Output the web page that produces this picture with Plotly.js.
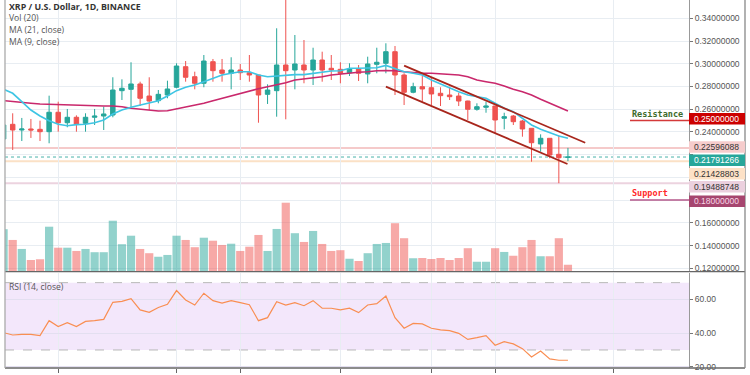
<!DOCTYPE html>
<html><head><meta charset="utf-8">
<script src="https://cdn.plot.ly/plotly-3.0.1.min.js"></script>
<style>html,body{margin:0;padding:0;background:#fff;overflow:hidden}#chart{width:750px;height:375px}</style>
</head><body><div id="chart"></div>
<script>
// ---- data ----
const opens  = [.2338,.2467,.2417,.2426,.2423,.2402,.2573,.2481,.2529,.2476,.2529,.2540,.2549,.2763,.2775,.2822,.2716,.2675,.2725,.2793,.2974,.2886,.2828,.3018,.2945,.2916,.2945,.2921,.2901,.2731,.2763,.2989,.2945,.2989,.2945,.3033,.2960,.2951,.2921,.2954,.2910,.2995,.3004,.3106,.2901,.2749,.2798,.2789,.2740,.2725,.2716,.2672,.2599,.2617,.2628,.2520,.2540,.2496,.2432,.2294,.2344,.2203,.2176];
const highs  = [.2479,.2564,.2523,.2514,.2499,.2719,.2666,.2602,.2546,.2564,.2602,.2622,.2881,.2863,.3013,.2842,.2881,.2769,.2851,.3004,.3024,.2930,.3077,.3042,.3042,.3057,.2998,.3077,.2901,.2819,.3312,.3700,.3253,.3209,.3141,.3106,.3077,.3013,.3004,.2989,.3062,.3141,.3180,.3156,.2916,.2833,.2901,.2881,.2793,.2798,.2745,.2675,.2652,.2666,.2628,.2569,.2549,.2505,.2432,.2379,.2344,.2373,.22596];
const lows   = [.2320,.2241,.2320,.2347,.2320,.2300,.2402,.2441,.2402,.2402,.2461,.2417,.2529,.2681,.2617,.2628,.2593,.2652,.2696,.2784,.2842,.2775,.2793,.2842,.2842,.2775,.2857,.2842,.2481,.2646,.2534,.2511,.2775,.2828,.2813,.2842,.2857,.2828,.2892,.2848,.2828,.2916,.2916,.2725,.2637,.2740,.2666,.2637,.2628,.2681,.2628,.2505,.2587,.2569,.2388,.2423,.2461,.2358,.2138,.2226,.2168,.19489,.21429];
const closes = [.2461,.2417,.2426,.2417,.2402,.2573,.2481,.2529,.2470,.2529,.2540,.2558,.2769,.2784,.2822,.2696,.2672,.2731,.2778,.2980,.2881,.2828,.3024,.2939,.2916,.2945,.2921,.2901,.2725,.2769,.2989,.2939,.2998,.2945,.3033,.2945,.2945,.2916,.2954,.2916,.2998,.3013,.3106,.2901,.2749,.2798,.2778,.2734,.2719,.2710,.2672,.2599,.2622,.2628,.2505,.2534,.2490,.2426,.2305,.2344,.2197,.2173,.21791];
const volumes = [170,127,91,47,50,180,96,96,83,91,78,78,204,110,144,91,74,60,67,144,127,98,136,124,107,112,83,100,147,83,171,276,154,119,163,111,83,86,52,43,74,111,115,194,134,54,55,51,55,47,55,94,40,40,94,79,64,98,127,62,62,134,28];
const volDir = ['u','d','u','d','d','u','d','u','d','u','u','u','u','u','u','d','d','u','u','u','d','d','u','d','d','u','d','d','d','u','u','d','u','d','u','d','d','d','u','d','u','u','u','d','d','u','d','d','d','d','d','d','u','u','d','u','d','d','d','u','d','d','d'];
const ma9  = [.2775,.2740,.2666,.2593,.2540,.2499,.2467,.2455,.2464,.2467,.2481,.2505,.2558,.2593,.2617,.2637,.2652,.2675,.2716,.2763,.2793,.2813,.2842,.2872,.2901,.2916,.2930,.2930,.2901,.2886,.2892,.2901,.2904,.2904,.2916,.2930,.2936,.2939,.2960,.2960,.2960,.2965,.2985,.2960,.2930,.2916,.2901,.2857,.2822,.2784,.2754,.2725,.2710,.2696,.2652,.2608,.2578,.2520,.2461,.2423,.2393,.2364,.2344];
const ma21 = [.2675,.2666,.2661,.2652,.2646,.2643,.2637,.2637,.2634,.2631,.2631,.2628,.2628,.2622,.2608,.2599,.2587,.2584,.2587,.2602,.2619,.2637,.2652,.2675,.2696,.2716,.2740,.2763,.2780,.2798,.2813,.2833,.2857,.2866,.2877,.2886,.2901,.2910,.2916,.2925,.2930,.2939,.2941,.2939,.2930,.2921,.2916,.2916,.2910,.2907,.2901,.2886,.2857,.2842,.2828,.2804,.2775,.2754,.2725,.2687,.2652,.2617,.2584];
const rsi = [40.3,38.9,39.3,39.3,38.5,47.4,43.9,46.2,43.9,47.0,47.4,48.2,58.3,58.9,60.5,53.8,52.4,55.2,57.1,65.3,59.7,56.7,63.7,59.3,57.9,59.3,58.1,56.9,47.4,49.2,58.7,56.7,58.1,56.3,59.3,54.8,54.8,53.8,54.8,52.2,56.7,57.5,62.1,49.2,42.9,45.8,45.5,42.9,41.9,41.5,39.9,36.3,37.3,38.5,32.8,35.0,33.6,30.8,25.8,29.4,24.7,23.9,23.9];
const gridIdx = [6,19,26,37,47,54,67];
const priceTicks = [0.12,0.14,0.16,0.18,0.20,0.22,0.24,0.26,0.28,0.30,0.32,0.34];
const priceTickText = ['0.12000000','0.14000000','0.16000000','','','','0.24000000','0.26000000','0.28000000','0.30000000','0.32000000','0.34000000'];
const rsiTicks = [20,40,60];
const rsiTickText = ['20.00','40.00','60.00'];
const trendUpperX = [44.0,63.9], trendUpperY = [0.2983,0.2305];
const trendLowerX = [42.0,61.95], trendLowerY = [0.2798,0.2118];
const resistance = 0.25, support = 0.18;
const levelValues = [0.22596088,0.21791266,0.21428803,0.19488748];
const levelLabels = ['0.25000000','0.22596088','0.21791266','0.21428803','0.19488748','0.18000000'];

// ---- build ----
const idx = closes.map((_, i) => i);
const UP = '#26a69a', DN = '#ef5350';
const H = 368; // plot height in px
const py = p => (H - p) / H; // pixel row -> paper y
const px = p => (p - 5) / 684; // pixel col -> paper x

const traces = [
  {type:'candlestick', x:idx, open:opens, high:highs, low:lows, close:closes, xaxis:'x', yaxis:'y',
   increasing:{line:{color:UP,width:1}, fillcolor:UP}, decreasing:{line:{color:DN,width:1}, fillcolor:DN},
   whiskerwidth:0, hoverinfo:'skip', showlegend:false},
  {type:'scatter', mode:'lines', x:idx, y:ma21, line:{color:'#c9286c', width:1.6}, xaxis:'x', yaxis:'y', hoverinfo:'skip', showlegend:false},
  {type:'scatter', mode:'lines', x:idx, y:ma9, line:{color:'#3ec5e4', width:1.6}, xaxis:'x', yaxis:'y', hoverinfo:'skip', showlegend:false},
  {type:'scatter', mode:'lines', x:trendUpperX, y:trendUpperY, line:{color:'#a8261c', width:1.8}, xaxis:'x', yaxis:'y', hoverinfo:'skip', showlegend:false},
  {type:'scatter', mode:'lines', x:trendLowerX, y:trendLowerY, line:{color:'#a8261c', width:1.8}, xaxis:'x', yaxis:'y', hoverinfo:'skip', showlegend:false},
  {type:'bar', x:idx, y:volumes, xaxis:'x', yaxis:'y2', width:0.9,
   marker:{color:volDir.map(d => d==='u' ? 'rgba(38,166,154,0.5)' : 'rgba(239,83,80,0.5)'), line:{width:0}},
   hoverinfo:'skip', showlegend:false},
  {type:'scatter', mode:'lines', x:idx, y:rsi, xaxis:'x', yaxis:'y3', line:{color:'#f98e52', width:1.2}, hoverinfo:'skip', showlegend:false}
];

const gridC = '#e8edf2';
const tickFont = {family:'Liberation Sans, Arial, sans-serif', size:8.5, color:'#555'};

const shapes = [
  {type:'rect', xref:'paper', yref:'y3', x0:0, x1:1, y0:30, y1:70, fillcolor:'#f3e7fb', line:{width:0}, layer:'below'},
  {type:'line', xref:'paper', yref:'y3', x0:0, x1:1, y0:70, y1:70, line:{color:'#b8b8b8', width:1, dash:'dash'}, layer:'between'},
  {type:'line', xref:'paper', yref:'y3', x0:0, x1:1, y0:30, y1:30, line:{color:'#b8b8b8', width:1, dash:'dash'}, layer:'between'},
  {type:'line', xref:'paper', yref:'y', x0:0, x1:1, y0:levelValues[0], y1:levelValues[0], line:{color:'#f5caca', width:2}, layer:'between'},
  {type:'line', xref:'paper', yref:'y', x0:0, x1:1, y0:levelValues[1], y1:levelValues[1], line:{color:'#4bb3aa', width:1, dash:'dot'}, layer:'between'},
  {type:'line', xref:'paper', yref:'y', x0:0, x1:1, y0:levelValues[2], y1:levelValues[2], line:{color:'#fbe1c6', width:2}, layer:'between'},
  {type:'line', xref:'paper', yref:'y', x0:0, x1:1, y0:levelValues[3], y1:levelValues[3], line:{color:'#ecd3df', width:2}, layer:'between'},
  {type:'line', xref:'paper', yref:'y', x0:px(630), x1:1, y0:resistance, y1:resistance, line:{color:'#d43a3a', width:1.5}},
  {type:'line', xref:'paper', yref:'y', x0:px(630), x1:1, y0:support, y1:support, line:{color:'#b5578a', width:1.5}},
  // frame lines
  {type:'line', xref:'paper', yref:'paper', x0:0, x1:px(745), y0:py(271.7), y1:py(271.7), line:{color:'#666', width:1.3}},
  {type:'line', xref:'paper', yref:'paper', x0:0, x1:px(745), y0:0, y1:0, line:{color:'#666', width:1.3}},
  {type:'line', xref:'paper', yref:'paper', x0:0, x1:0, y0:0, y1:1, line:{color:'#aaa', width:1.3}},
  {type:'line', xref:'paper', yref:'paper', x0:px(745), x1:px(745), y0:0, y1:1, line:{color:'#888', width:1.3}}
];

const boxColors = ['#cc0000','#f6cccc','#27a69a','#fde1c6','#ebd0de','#a6466f'];
const boxText   = ['#ffffff','#333333','#ffffff','#333333','#333333','#f7d6e6'];
const boxCenters = [118.7,147,160.3,173.8,186.8,201.2];
const annotations = [];
boxCenters.forEach((c, k) => {
  shapes.push({type:'rect', xref:'paper', yref:'paper', x0:1, x1:px(745), y0:py(c+5.7), y1:py(c-5.7), fillcolor:boxColors[k], line:{width:0}});
  annotations.push({xref:'paper', yref:'paper', x:px(693), y:py(c), xanchor:'left', yanchor:'middle', showarrow:false, borderpad:0,
    text:levelLabels[k], font:{family:tickFont.family, size:8.5, color:boxText[k]}});
});

const txt = (t, x, y, font, ya) => ({xref:'paper', yref:'paper', x:px(x), y:py(y), xanchor:'left', yanchor:ya||'middle', showarrow:false, borderpad:0, text:t, font});
const leg = {family:'Open Sans, sans-serif', size:8.6, color:'#555'};
annotations.push(txt('XRP / U.S. Dollar, 1D, BINANCE', 8, 0, {family:'Open Sans, sans-serif', size:8.8, color:'#333', weight:700}, 'top'));
annotations.push(txt('Vol (20)', 8, 17.6, leg));
annotations.push(txt('MA (21, close)', 8, 29.8, leg));
annotations.push(txt('MA (9, close)', 8, 42, leg));
annotations.push(txt('RSI (14, close)', 8, 287, leg));
annotations.push(txt('Resistance', 631, 113.5, {family:'DejaVu Sans Mono, monospace', size:8.5, color:'#3d6b2a', weight:700}));
annotations.push(txt('Support', 631, 193, {family:'DejaVu Sans Mono, monospace', size:8.5, color:'#ff2a2a', weight:700}));

const layout = {
  width:750, height:375, margin:{l:5, r:61, t:0, b:7},
  paper_bgcolor:'#fff', plot_bgcolor:'#fff', showlegend:false, hovermode:false, bargap:0.1,
  xaxis:{domain:[0,1], anchor:'y3', range:[0.154,75.3], tickmode:'array', tickvals:gridIdx, showticklabels:false,
    ticks:'outside', ticklen:4, tickcolor:'#666', showgrid:true, gridcolor:gridC, zeroline:false, showline:false,
    rangeslider:{visible:false}, fixedrange:true},
  yaxis:{domain:[py(271.7),1], anchor:'x', side:'right', range:[0.1170,0.3561], tickmode:'array', tickvals:priceTicks, ticktext:priceTickText,
    ticks:'outside', ticklen:3, tickcolor:'#777', tickfont:tickFont, showgrid:true, gridcolor:gridC, zeroline:false,
    showline:true, linecolor:'#999', linewidth:1, fixedrange:true},
  yaxis2:{overlaying:'y', anchor:'x', range:[0,1087], visible:false, fixedrange:true},
  yaxis3:{domain:[0,py(272.7)], anchor:'x', side:'right', range:[19.3,75.9], tickmode:'array', tickvals:rsiTicks, ticktext:rsiTickText,
    ticks:'outside', ticklen:3, tickcolor:'#777', tickfont:tickFont, showgrid:true, gridcolor:'#e3dff0', zeroline:false,
    showline:true, linecolor:'#999', linewidth:1, fixedrange:true},
  shapes, annotations
};

Plotly.newPlot('chart', traces, layout, {staticPlot:true, displayModeBar:false});
</script></body></html>
